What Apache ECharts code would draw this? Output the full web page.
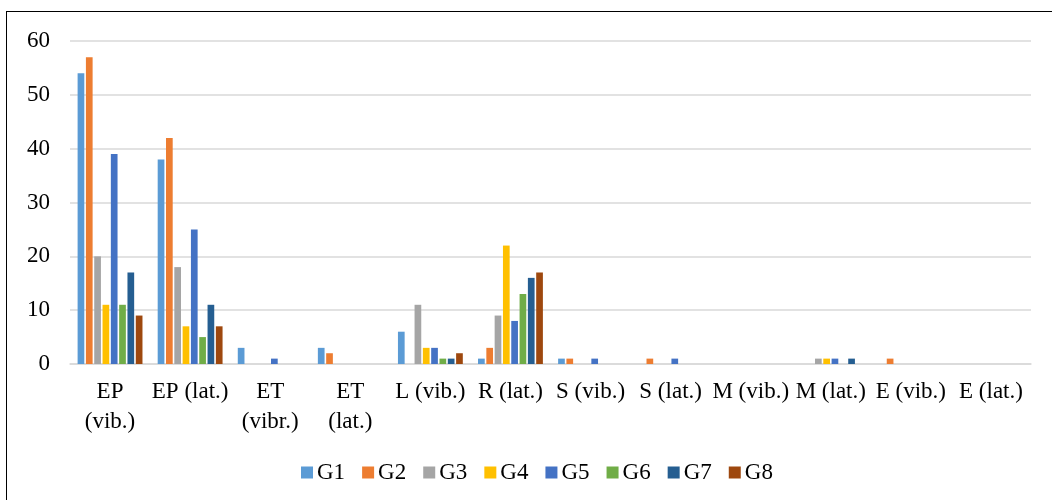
<!DOCTYPE html>
<html>
<head>
<meta charset="utf-8">
<script src="https://cdn.jsdelivr.net/npm/echarts@6/dist/echarts.min.js"></script>
<style>
html,body{margin:0;padding:0;background:#fff;overflow:hidden;width:1052px;height:500px;}
#frame{position:absolute;left:6px;top:11px;width:1100px;height:600px;box-sizing:border-box;border:1.5px solid #000;}
#chart{position:absolute;left:0;top:0;width:1052px;height:500px;}
</style>
</head>
<body>
<div id="frame"></div>
<div id="chart"></div>
<script>
const categories = ["EP\n(vib.)", "EP (lat.)", "ET\n(vibr.)", "ET\n(lat.)", "L (vib.)", "R (lat.)", "S (vib.)", "S (lat.)", "M (vib.)", "M (lat.)", "E (vib.)", "E (lat.)"];
const seriesNames = ["G1", "G2", "G3", "G4", "G5", "G6", "G7", "G8"];
const G1 = [54, 38, 3, 3, 6, 1, 1, 0, 0, 0, 0, 0];
const G2 = [57, 42, 0, 2, 0, 3, 1, 1, 0, 0, 1, 0];
const G3 = [20, 18, 0, 0, 11, 9, 0, 0, 0, 1, 0, 0];
const G4 = [11, 7, 0, 0, 3, 22, 0, 0, 0, 1, 0, 0];
const G5 = [39, 25, 1, 0, 3, 8, 1, 1, 0, 1, 0, 0];
const G6 = [11, 5, 0, 0, 1, 13, 0, 0, 0, 0, 0, 0];
const G7 = [17, 11, 0, 0, 1, 16, 0, 0, 0, 1, 0, 0];
const G8 = [9, 7, 0, 0, 2, 17, 0, 0, 0, 0, 0, 0];
const yTicks = [0, 10, 20, 30, 40, 50, 60];

const values = [G1, G2, G3, G4, G5, G6, G7, G8];
const colors = ["#5B9BD5", "#ED7D31", "#A5A5A5", "#FFC000", "#4472C4", "#70AD47", "#255E91", "#9E480E"];
const font = "Liberation Serif";

const chart = echarts.init(document.getElementById('chart'), null, {renderer: 'canvas'});
chart.setOption({
  animation: false,
  color: colors,
  grid: {left: 70, right: 21, top: 41, bottom: 136, containLabel: false},
  legend: {
    top: 456, left: 296,
    itemWidth: 12, itemHeight: 12, itemGap: 17,
    icon: 'rect',
    textStyle: {fontFamily: font, fontSize: 23, color: '#000', padding: [0,0,0,-1]},
    data: seriesNames
  },
  xAxis: {
    type: 'category',
    data: categories,
    axisLine: {lineStyle: {color: '#d9d9d9', width: 1.5}},
    axisTick: {show: false},
    axisLabel: {interval: 0, fontFamily: font, fontSize: 23, color: '#000', margin: 13, lineHeight: 30}
  },
  yAxis: {
    type: 'value',
    min: yTicks[0], max: yTicks[yTicks.length - 1], interval: 10,
    axisLine: {show: false},
    axisTick: {show: false},
    splitLine: {lineStyle: {color: '#d9d9d9', width: 1.5}},
    axisLabel: {fontFamily: font, fontSize: 23, color: '#000', margin: 20}
  },
  series: seriesNames.map((n, i) => ({
    name: n,
    type: 'bar',
    data: values[i],
    barGap: '24%',
    barCategoryGap: '19%',
    itemStyle: {color: colors[i]}
  }))
});
</script>
</body>
</html>
